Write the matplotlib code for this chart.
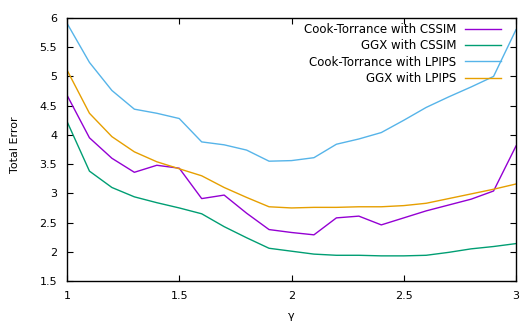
import matplotlib
matplotlib.use("Agg")
import matplotlib.pyplot as plt
import numpy as np

gamma = [1.0, 1.1, 1.2, 1.3, 1.4, 1.5, 1.6, 1.7, 1.8, 1.9, 2.0,
         2.1, 2.2, 2.3, 2.4, 2.5, 2.6, 2.7, 2.8, 2.9, 3.0]
ct_cssim = [4.68, 3.95, 3.60, 3.36, 3.48, 3.43, 2.91, 2.97, 2.66, 2.38, 2.33,
            2.29, 2.58, 2.61, 2.46, 2.58, 2.70, 2.80, 2.90, 3.04, 3.81]
ggx_cssim = [4.23, 3.38, 3.10, 2.94, 2.84, 2.75, 2.65, 2.43, 2.24, 2.06, 2.01,
             1.96, 1.94, 1.94, 1.93, 1.93, 1.94, 1.99, 2.05, 2.09, 2.14]
ct_lpips = [5.91, 5.24, 4.76, 4.44, 4.37, 4.28, 3.88, 3.83, 3.74, 3.55, 3.56,
            3.61, 3.84, 3.93, 4.04, 4.25, 4.47, 4.65, 4.82, 5.00, 5.80]
ggx_lpips = [5.11, 4.37, 3.97, 3.71, 3.54, 3.42, 3.30, 3.10, 2.93, 2.77, 2.75,
             2.76, 2.76, 2.77, 2.77, 2.79, 2.83, 2.91, 2.99, 3.07, 3.16]

labels = ["Cook-Torrance with CSSIM", "GGX with CSSIM",
          "Cook-Torrance with LPIPS", "GGX with LPIPS"]
colors = ["#9400d3", "#009e73", "#56b4e9", "#e69f00"]
xticks = [1, 1.5, 2, 2.5, 3]
yticks = [1.5, 2, 2.5, 3, 3.5, 4, 4.5, 5, 5.5, 6]

fig = plt.figure(figsize=(5.2, 3.21), dpi=100)
ax = fig.add_axes([67/520, 1-281/321, (516-67)/520, (281-18)/321])
for ys, lab, c in zip([ct_cssim, ggx_cssim, ct_lpips, ggx_lpips], labels, colors):
    ax.plot(gamma, ys, color=c, lw=1.0, label=lab)

ax.set_xlim(1, 3)
ax.set_ylim(1.5, 6)
ax.set_xticks(xticks)
ax.set_xticklabels([f"{t:g}" for t in xticks])
ax.set_yticks(yticks)
ax.set_yticklabels([f"{t:g}" for t in yticks])
ax.tick_params(direction="in", top=True, right=True, length=4, width=0.8,
               labelsize=8, colors="black")
ax.tick_params(axis="y", pad=7)
ax.tick_params(axis="x", pad=7.5)
for s in ax.spines.values():
    s.set_linewidth(1.0)
ax.set_xlabel("γ", fontsize=8, va="center")
ax.xaxis.set_label_coords(0.5, (281-316)/263)
ax.set_ylabel("Total Error", fontsize=8, va="center")
ax.yaxis.set_label_coords((15-67)/449, (281-145)/263)
leg = ax.legend(loc="upper right", frameon=False, fontsize=8.5, markerfirst=False,
                handlelength=3.05, handletextpad=0.76, labelspacing=0.28,
                borderaxespad=0.0, borderpad=0.0,
                bbox_to_anchor=((501-67)/449, (281-23)/263))
for t in leg.get_texts():
    t.set_ha("right")
leg._legend_box.align = "right"
fig.savefig("out.png", dpi=100)
